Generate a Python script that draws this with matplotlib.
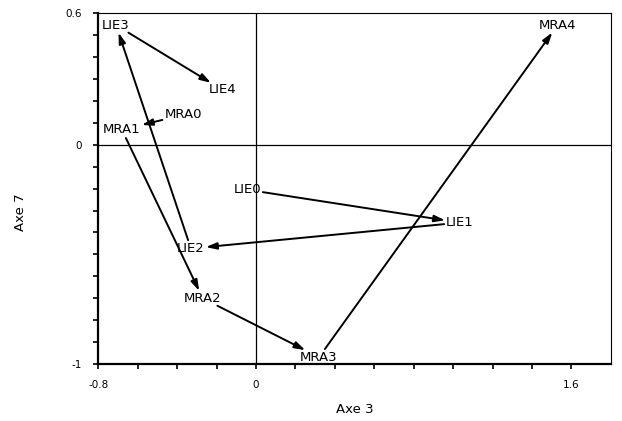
import numpy as np
import matplotlib
matplotlib.use('Agg')
import matplotlib.pyplot as plt

# trajectories on axes 3 / 7
mra_names = ['MRA0', 'MRA1', 'MRA2', 'MRA3', 'MRA4']
mra_x = [-0.37, -0.68, -0.27, 0.32, 1.53]
mra_y = [0.136, 0.068, -0.70, -0.968, 0.545]

lie_names = ['LIE0', 'LIE1', 'LIE2', 'LIE3', 'LIE4']
lie_x = [-0.045, 1.035, -0.33, -0.71, -0.17]
lie_y = [-0.205, -0.355, -0.473, 0.545, 0.25]

x_ticks = np.arange(-0.8, 1.61, 0.2)
x_ticklabels = {-0.8: '-0.8', 0.0: '0', 1.6: '1.6'}
y_ticks = np.arange(-1.0, 0.61, 0.1)
y_ticklabels = {-1.0: '-1', 0.0: '0', 0.6: '0.6'}


def edge_gap(bb, ux, uy):
    # distance from the centre of a text box to its border along (ux, uy)
    hw, hh = bb.width / 2, bb.height / 2
    tx = hw / abs(ux) if abs(ux) > 1e-9 else np.inf
    ty = hh / abs(uy) if abs(uy) > 1e-9 else np.inf
    return min(tx, ty)


fig = plt.figure(figsize=(6.22, 4.21), dpi=100)
ax = fig.add_axes([0.158, 0.135, 0.824, 0.834])
ax.set_xlim(-0.8, 1.8)
ax.set_ylim(-1.0, 0.6)

ax.axhline(0, color='black', lw=0.9)
ax.axvline(0, color='black', lw=0.9)

ax.set_xticks(x_ticks)
ax.set_xticklabels([x_ticklabels.get(round(v, 1), '') for v in x_ticks])
ax.set_yticks(y_ticks)
ax.set_yticklabels([y_ticklabels.get(round(v, 1), '') for v in y_ticks])
ax.tick_params(direction='out', length=3.5, width=1.2, labelsize=7.5, pad=8)

for side in ['left', 'bottom']:
    ax.spines[side].set_linewidth(1.6)
for side in ['top', 'right']:
    ax.spines[side].set_linewidth(0.8)

ax.set_xlabel('Axe 3', fontsize=9.5, labelpad=9)
ax.set_ylabel('Axe 7', fontsize=9.5)
ax.yaxis.set_label_coords(-0.14, 0.433)

fig.canvas.draw()
renderer = fig.canvas.get_renderer()
to_pt = 72.0 / fig.dpi

for names, xs, ys in [(mra_names, mra_x, mra_y), (lie_names, lie_x, lie_y)]:
    texts = [ax.text(x, y, n, ha='center', va='center', fontsize=9.5)
             for n, x, y in zip(names, xs, ys)]
    boxes = [t.get_window_extent(renderer) for t in texts]
    for i in range(len(names) - 1):
        p0 = ax.transData.transform((xs[i], ys[i]))
        p1 = ax.transData.transform((xs[i + 1], ys[i + 1]))
        d = p1 - p0
        u = d / np.hypot(*d)
        sa = (edge_gap(boxes[i], *u) + 2) * to_pt
        sb = (edge_gap(boxes[i + 1], *u) + 1) * to_pt
        ax.annotate('', xy=(xs[i + 1], ys[i + 1]), xytext=(xs[i], ys[i]),
                    arrowprops=dict(arrowstyle='-|>,head_length=0.8,head_width=0.25',
                                    color='black', lw=1.4,
                                    shrinkA=sa, shrinkB=sb,
                                    mutation_scale=8))

fig.savefig('out.png', dpi=100)
